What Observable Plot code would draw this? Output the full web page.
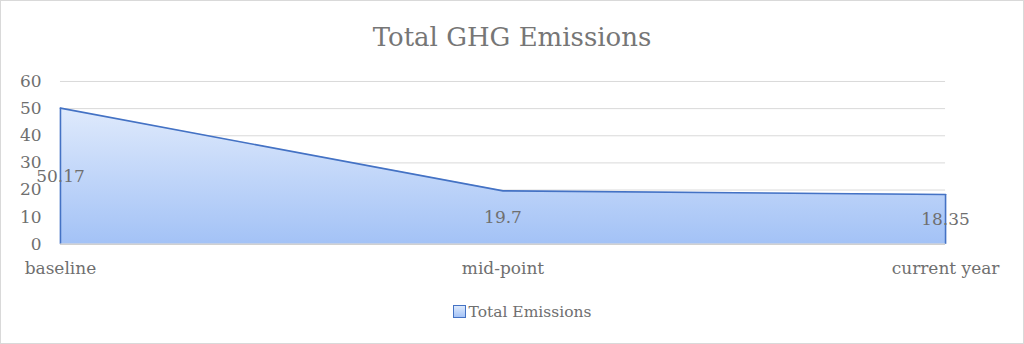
<!DOCTYPE html>
<html>
<head>
<meta charset="utf-8">
<script src="https://cdn.jsdelivr.net/npm/d3@7"></script>
<script src="https://cdn.jsdelivr.net/npm/@observablehq/plot@0.6"></script>
<style>
  html, body { margin: 0; padding: 0; background: #fff; }
  #frame { position: relative; width: 1022px; height: 342px; border: 1px solid #d9d9d9; overflow: hidden; font-family: "DejaVu Serif", serif; }
  #title { position: absolute; left: 0; top: 18px; width: 1022px; text-align: center; font-size: 26px; color: #767676; line-height: 36px; }
  #chart { position: absolute; left: -1px; top: 57px; }
  #legend { position: absolute; left: 20px; top: 300px; width: 1002px; text-align: center; font-size: 15.5px; color: #6f6f6f; line-height: 22px; }
  #legend .sw { display: inline-block; width: 11px; height: 11px; border: 1px solid #4472c4; background: linear-gradient(#dde9fc, #a4c3f6); vertical-align: -1px; margin-right: 3px; }
</style>
</head>
<body>
<div id="frame">
  <div id="title">Total GHG Emissions</div>
  <div id="chart"></div>
  <div id="legend"><span class="sw"></span>Total Emissions</div>
</div>
<script>
const categories = ["baseline", "mid-point", "current year"];
const totalEmissions = [50.17, 19.7, 18.35];
const yTicks = [0, 10, 20, 30, 40, 50, 60];
const seriesName = "Total Emissions";

const data = categories.map((c, i) => ({category: c, value: totalEmissions[i]}));

const gradient = () => {
  const defs = d3.create("svg:defs");
  const g = defs.append("linearGradient")
    .attr("id", "areaGrad").attr("x1", 0).attr("y1", 0).attr("x2", 0).attr("y2", 1);
  g.append("stop").attr("offset", "0%").attr("stop-color", "#dfeafc");
  g.append("stop").attr("offset", "100%").attr("stop-color", "#a3c2f6");
  return defs.node();
};

const chart = Plot.plot({
  width: 1024,
  height: 232,
  marginLeft: 60,
  marginRight: 78,
  marginTop: 23,
  marginBottom: 46,
  style: {fontFamily: "DejaVu Serif, serif", fontSize: "16.5px", color: "#6f6f6f", background: "transparent"},
  x: {type: "point", domain: categories, padding: 0, label: null},
  y: {domain: [0, 60], ticks: yTicks, label: null},
  marks: [
    gradient,
    Plot.gridY(yTicks, {stroke: "#d9d9d9", strokeOpacity: 1, strokeWidth: 1}),
    Plot.areaY(data, {x: "category", y: "value", fill: "url(#areaGrad)", curve: "linear"}),
    Plot.lineY(data, {x: "category", y: "value", stroke: "#4472c4", strokeWidth: 1.6}),
    Plot.ruleX([data[0], data[data.length - 1]], {x: "category", y1: 0, y2: "value", stroke: "#4472c4", strokeWidth: 1.6}),
    Plot.ruleY([0], {stroke: "#d0d0d0", strokeWidth: 1.5}),
    Plot.axisY(yTicks, {tickSize: 0, tickPadding: 0, dx: -19, fill: "#6f6f6f", fontSize: 17}),
    Plot.axisX(categories, {tickSize: 0, tickPadding: 18, fill: "#6f6f6f", fontSize: 17}),
    Plot.text(data, {x: "category", y: d => d.value / 2, text: d => String(d.value), fill: "#6f6f6f", fontSize: 17})
  ]
});
document.getElementById("chart").appendChild(chart);
</script>
</body>
</html>
